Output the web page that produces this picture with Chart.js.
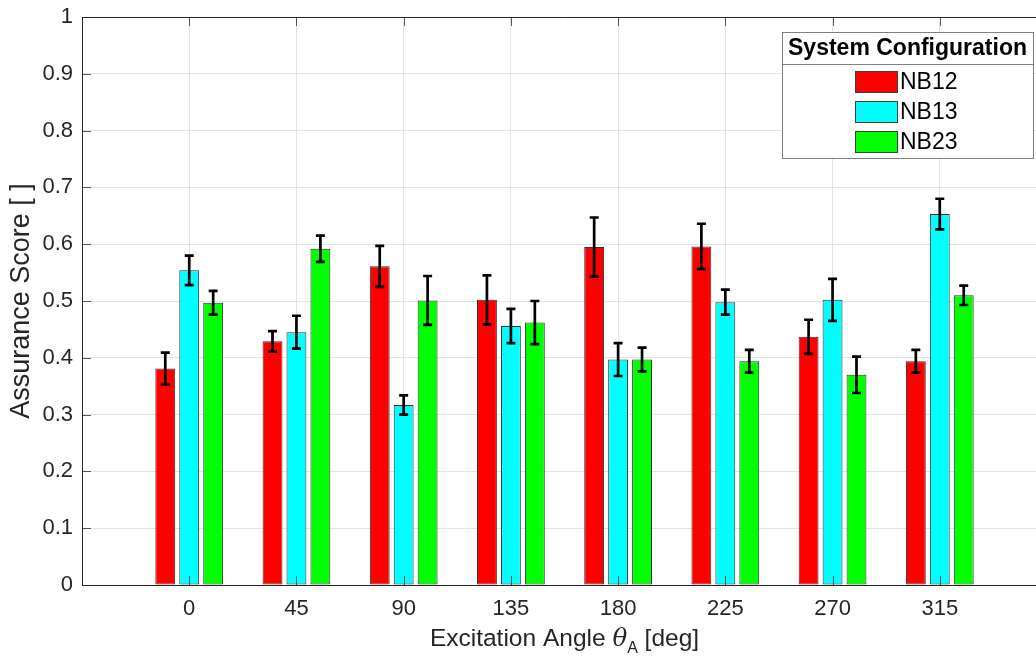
<!DOCTYPE html>
<html>
<head>
<meta charset="utf-8">
<script src="https://cdn.jsdelivr.net/npm/chart.js@4/dist/chart.umd.min.js"></script>
<style>
  html, body { margin: 0; padding: 0; background: #ffffff; overflow: hidden; }
  #wrap { position: relative; width: 1036px; height: 658px; overflow: hidden; }
  canvas { display: block; }
</style>
</head>
<body>
<div id="wrap"><canvas id="chart" width="1047" height="658"></canvas></div>
<script>
// Excitation angles (deg) and the three system configurations
const angles = [0, 45, 90, 135, 180, 225, 270, 315];
const seriesNames = ['NB12', 'NB13', 'NB23'];
const seriesColors = ['#ff0000', '#00ffff', '#00ff00'];

const nb12 = [0.381, 0.429, 0.561, 0.502, 0.595, 0.596, 0.437, 0.394];
const nb12Err = [0.028, 0.018, 0.036, 0.043, 0.052, 0.040, 0.030, 0.020];
const nb13 = [0.554, 0.445, 0.317, 0.456, 0.397, 0.498, 0.502, 0.653];
const nb13Err = [0.026, 0.029, 0.017, 0.030, 0.029, 0.022, 0.037, 0.027];
const nb23 = [0.497, 0.592, 0.501, 0.462, 0.397, 0.394, 0.370, 0.510];
const nb23Err = [0.021, 0.023, 0.043, 0.038, 0.021, 0.020, 0.032, 0.017];

const yTicks = [0, 0.1, 0.2, 0.3, 0.4, 0.5, 0.6, 0.7, 0.8, 0.9, 1];

const values = [nb12, nb13, nb23];
const errors = [nb12Err, nb13Err, nb23Err];

const FONT = '"Liberation Sans", Arial, Helvetica, sans-serif';
const AXIS_COLOR = '#262626';

const datasets = seriesNames.map((name, i) => ({
  label: name,
  data: angles.map((a, j) => ({ x: a, y: values[i][j] })),
  errors: errors[i],
  backgroundColor: seriesColors[i],
  borderColor: '#303030',
  borderWidth: 1,
  borderSkipped: false,
  categoryPercentage: 0.67,
  barPercentage: 0.83
}));

// Error bars, drawn from each bar element through the y scale
const errorBarPlugin = {
  id: 'errorBars',
  afterDatasetsDraw(chart) {
    const ctx = chart.ctx;
    const ys = chart.scales.y;
    ctx.save();
    ctx.strokeStyle = '#000000';
    ctx.lineWidth = 2.7;
    ctx.lineCap = 'butt';
    chart.data.datasets.forEach((ds, di) => {
      const meta = chart.getDatasetMeta(di);
      meta.data.forEach((bar, j) => {
        const v = ds.data[j].y;
        const e = ds.errors[j];
        const yTop = ys.getPixelForValue(v + e);
        const yBot = ys.getPixelForValue(v - e);
        const x = bar.x;
        const cap = 4.5;
        ctx.beginPath();
        ctx.moveTo(x, yTop); ctx.lineTo(x, yBot);
        ctx.moveTo(x - cap, yTop); ctx.lineTo(x + cap, yTop);
        ctx.moveTo(x - cap, yBot); ctx.lineTo(x + cap, yBot);
        ctx.stroke();
      });
    });
    ctx.restore();
  }
};

// Box frame top edge, inward tick marks and axis titles
const framePlugin = {
  id: 'frame',
  afterDatasetsDraw(chart) {
    const ctx = chart.ctx;
    const a = chart.chartArea;
    const xs = chart.scales.x;
    const ys = chart.scales.y;
    ctx.save();
    ctx.strokeStyle = AXIS_COLOR;
    ctx.lineWidth = 1;
    ctx.beginPath();
    ctx.moveTo(a.left, a.top + 0.5); ctx.lineTo(a.right, a.top + 0.5);
    ctx.stroke();
    const tl = 9;
    ctx.strokeStyle = 'rgba(38,38,38,0.75)';
    ctx.beginPath();
    angles.forEach(v => {
      const x = Math.round(xs.getPixelForValue(v)) + 0.5;
      ctx.moveTo(x, a.bottom); ctx.lineTo(x, a.bottom - tl);
      ctx.moveTo(x, a.top); ctx.lineTo(x, a.top + tl);
    });
    yTicks.forEach(v => {
      const y = Math.round(ys.getPixelForValue(v)) + 0.5;
      ctx.moveTo(a.left, y); ctx.lineTo(a.left + tl, y);
    });
    ctx.stroke();
    ctx.restore();

    // y axis title
    ctx.save();
    ctx.fillStyle = AXIS_COLOR;
    ctx.font = '27px ' + FONT;
    ctx.textAlign = 'center';
    ctx.textBaseline = 'middle';
    ctx.translate(22, (a.top + a.bottom) / 2);
    ctx.rotate(-Math.PI / 2);
    ctx.fillText('Assurance Score [ ]', 0, 0);
    ctx.restore();

    // x axis title with italic theta and subscript A
    ctx.save();
    ctx.fillStyle = AXIS_COLOR;
    ctx.textBaseline = 'alphabetic';
    const parts = [
      { t: 'Excitation Angle ', f: '24.5px ' + FONT, dy: 0 },
      { t: '\u03B8', f: 'italic 24.5px "DejaVu Serif", "Liberation Serif", serif', dy: 0 },
      { t: 'A', f: '16px ' + FONT, dy: 7 },
      { t: ' [deg]', f: '24.5px ' + FONT, dy: 0 }
    ];
    let total = 0;
    parts.forEach(p => { ctx.font = p.f; p.w = ctx.measureText(p.t).width; total += p.w; });
    let x = (a.left + a.right) / 2 - total / 2;
    const base = 646;
    parts.forEach(p => {
      ctx.font = p.f;
      ctx.textAlign = 'left';
      ctx.fillText(p.t, x, base + p.dy);
      x += p.w;
    });
    ctx.restore();
  }
};

// Boxed legend with a title row
const legendPlugin = {
  id: 'boxLegend',
  afterDraw(chart) {
    const ctx = chart.ctx;
    const bx = 782, by = 32, bw = 251, bh = 126, sep = 64;
    ctx.save();
    ctx.fillStyle = '#ffffff';
    ctx.fillRect(bx, by, bw, bh);
    ctx.strokeStyle = '#808080';
    ctx.lineWidth = 1;
    ctx.strokeRect(bx + 0.5, by + 0.5, bw, bh);
    ctx.beginPath();
    ctx.moveTo(bx, sep + 0.5); ctx.lineTo(bx + bw, sep + 0.5);
    ctx.stroke();
    ctx.fillStyle = '#000000';
    ctx.font = 'bold 23px ' + FONT;
    ctx.textAlign = 'center';
    ctx.textBaseline = 'middle';
    ctx.fillText('System Configuration', bx + bw / 2, (by + sep) / 2 + 1);
    chart.data.datasets.forEach((ds, i) => {
      const cy = 82 + i * 30;
      ctx.fillStyle = ds.backgroundColor;
      ctx.fillRect(855, cy - 11, 43, 22);
      ctx.strokeStyle = '#404040';
      ctx.strokeRect(855.5, cy - 10.5, 42, 21);
      ctx.fillStyle = '#000000';
      ctx.font = '23px ' + FONT;
      ctx.textAlign = 'left';
      ctx.fillText(ds.label, 900, cy + 1);
    });
    ctx.restore();
  }
};

new Chart(document.getElementById('chart'), {
  type: 'bar',
  data: { datasets },
  options: {
    responsive: false,
    animation: false,
    devicePixelRatio: 1,
    layout: { padding: { top: 17, left: 0, right: 0, bottom: 0 } },
    plugins: { legend: { display: false }, tooltip: { enabled: false } },
    scales: {
      x: {
        type: 'linear',
        offset: false,
        min: -45,
        max: 360,
        afterBuildTicks: s => { s.ticks = angles.map(v => ({ value: v })); },
        afterFit: s => { s.height = 73; },
        grid: { color: '#e3e3e3', lineWidth: 1, drawTicks: false, offset: false },
        border: { display: true, color: AXIS_COLOR, width: 1 },
        ticks: {
          font: { family: FONT, size: 22 },
          color: AXIS_COLOR,
          padding: 11,
          maxRotation: 0,
          autoSkip: false,
          callback: v => String(v)
        }
      },
      y: {
        min: 0,
        max: 1,
        afterBuildTicks: s => { s.ticks = yTicks.map(v => ({ value: v })); },
        afterFit: s => { s.width = 82; s.paddingTop = 0; s.paddingBottom = 0; },
        grid: { color: '#e3e3e3', lineWidth: 1, drawTicks: false },
        border: { display: true, color: AXIS_COLOR, width: 1 },
        ticks: {
          font: { family: FONT, size: 22, lineHeight: 1 },
          color: AXIS_COLOR,
          padding: 9,
          callback: v => String(+v.toFixed(1))
        }
      }
    }
  },
  plugins: [errorBarPlugin, framePlugin, legendPlugin]
});
</script>
</body>
</html>
